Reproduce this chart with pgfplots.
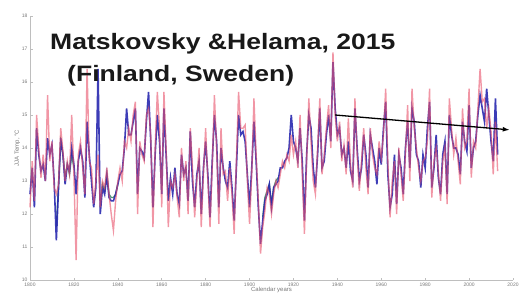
\documentclass[border=0pt]{standalone}
\usepackage{fontspec}
\setmainfont{Liberation Sans}
\usepackage{pgfplots}
\usepackage{pgfplotstable}
\usetikzlibrary{arrows.meta}
\pgfplotsset{compat=1.18}
\definecolor{redl}{RGB}{232,80,105}
\definecolor{bluel}{RGB}{40,40,175}
\definecolor{greenl}{RGB}{40,120,90}
\definecolor{axgray}{RGB}{190,190,190}
\definecolor{labgray}{RGB}{120,120,120}
\definecolor{titleblack}{RGB}{25,25,25}

\pgfplotstableread{
year red blue
1800 12.2 12.6
1801 13.6 13.4
1802 12.4 12.2
1803 15.0 14.6
1804 14.0 13.8
1805 13.1 13.3
1806 13.8 13.5
1807 13.0 13.0
1808 15.6 14.3
1809 13.6 13.8
1810 14.2 14.1
1811 12.8 13.0
1812 12.6 11.2
1813 12.9 12.8
1814 14.6 14.3
1815 13.9 13.8
1816 13.0 12.9
1817 13.6 13.5
1818 13.2 13.3
1819 15.0 14.0
1820 13.2 13.5
1821 10.6 12.6
1822 13.8 13.6
1823 14.2 14.0
1824 13.4 13.6
1825 12.6 12.5
1826 16.4 14.8
1827 13.6 13.8
1828 13.4 13.0
1829 12.3 12.2
1830 13.0 12.8
1831 13.8 16.4
1832 12.2 12.0
1833 13.0 12.8
1834 12.8 12.6
1835 13.4 13.2
1836 12.6 12.5
1837 12.0 12.4
1838 11.5 12.4
1839 12.4 12.6
1840 13.0 12.9
1841 13.4 13.2
1842 13.0 13.3
1843 14.2 14.0
1844 14.0 15.2
1845 14.6 14.4
1846 14.2 14.4
1847 15.0 14.8
1848 15.4 15.2
1849 12.0 12.6
1850 14.2 14.0
1851 13.8 13.9
1852 13.6 13.7
1853 15.0 14.8
1854 15.2 15.7
1855 14.4 14.2
1856 11.6 12.2
1857 14.0 13.8
1858 15.7 15.0
1859 14.6 14.2
1860 12.2 12.6
1861 15.7 15.2
1862 14.0 13.8
1863 11.6 12.4
1864 13.0 13.1
1865 12.8 12.6
1866 13.2 13.4
1867 12.5 12.6
1868 11.9 12.3
1869 14.0 13.8
1870 13.0 13.2
1871 13.6 13.4
1872 12.0 12.4
1873 14.6 14.5
1874 13.4 13.0
1875 11.9 12.2
1876 13.0 13.2
1877 14.0 13.6
1878 11.6 12.0
1879 13.2 13.4
1880 14.6 14.2
1881 13.0 13.2
1882 11.6 11.9
1883 13.4 13.6
1884 15.6 15.0
1885 14.0 14.2
1886 11.7 12.2
1887 14.6 14.0
1888 13.2 13.4
1889 13.3 13.0
1890 12.4 12.8
1891 13.4 13.6
1892 12.6 12.8
1893 11.4 11.8
1894 13.6 13.4
1895 15.7 15.0
1896 14.6 14.4
1897 14.6 14.5
1898 14.7 14.2
1899 13.0 13.2
1900 11.7 12.2
1901 13.2 13.4
1902 15.5 14.8
1903 13.8 13.6
1904 12.4 12.2
1905 10.8 11.1
1906 11.6 11.8
1907 12.1 12.4
1908 12.8 12.6
1909 12.6 12.9
1910 12.0 12.2
1911 12.6 12.8
1912 13.0 12.9
1913 12.8 13.0
1914 13.2 13.4
1915 13.6 13.4
1916 13.4 13.6
1917 13.8 13.7
1918 13.6 14.0
1919 14.4 15.0
1920 13.8 14.2
1921 14.2 14.0
1922 13.4 13.6
1923 15.0 14.6
1924 13.2 13.6
1925 11.4 11.8
1926 13.6 13.8
1927 15.5 15.0
1928 14.2 14.6
1929 13.0 13.4
1930 12.6 12.8
1931 14.0 13.8
1932 15.5 15.2
1933 13.2 13.4
1934 13.8 13.6
1935 14.6 14.4
1936 15.3 15.0
1937 14.0 14.2
1938 16.9 16.6
1939 15.0 15.2
1940 14.2 14.4
1941 14.8 14.6
1942 13.6 13.8
1943 14.1 14.0
1944 13.2 13.4
1945 14.9 14.2
1946 13.5 13.3
1947 12.8 13.0
1948 15.5 15.2
1949 13.8 14.0
1950 12.7 13.0
1951 13.6 13.4
1952 14.6 14.4
1953 13.4 13.8
1954 12.6 12.8
1955 14.6 14.4
1956 13.8 14.0
1957 13.4 13.6
1958 13.2 12.9
1959 14.2 14.0
1960 13.7 13.5
1961 14.4 14.6
1962 15.8 15.4
1963 13.6 13.2
1964 11.9 12.2
1965 13.0 12.6
1966 13.6 13.8
1967 12.0 12.3
1968 14.0 13.8
1969 13.2 13.4
1970 12.4 12.6
1971 13.8 14.0
1972 15.3 14.8
1973 13.0 13.4
1974 15.8 15.2
1975 14.6 14.8
1976 14.0 13.8
1977 13.4 13.6
1978 13.0 12.8
1979 13.6 13.8
1980 13.7 13.4
1981 14.2 14.6
1982 15.8 15.4
1983 12.5 12.8
1984 13.6 13.4
1985 14.0 14.4
1986 13.3 13.1
1987 12.4 12.6
1988 13.6 13.8
1989 14.0 14.2
1990 12.3 12.6
1991 15.5 15.0
1992 14.6 14.4
1993 13.8 14.0
1994 14.3 14.0
1995 13.6 13.8
1996 12.9 13.2
1997 15.2 14.8
1998 14.0 14.2
1999 14.2 13.9
2000 15.8 15.3
2001 13.1 13.4
2002 14.2 14.0
2003 14.0 14.2
2004 15.2 15.0
2005 16.4 15.6
2006 15.4 15.2
2007 15.5 14.8
2008 14.6 15.8
2009 15.2 15.0
2010 14.5 14.2
2011 13.2 13.6
2012 14.8 15.5
2013 13.3 13.8
}\datatable

\pgfplotstableread{
year green
1812 11.6
1813 12.9
1814 14.2
1815 13.8
1816 13.1
1817 13.5
1818 13.2
1819 13.8
1820 13.4
1821 nan
1832 12.2
1833 12.9
1834 12.7
1835 13.2
1836 12.6
1837 12.5
1838 12.5
1839 12.6
1840 12.9
1841 nan
1906 11.9
1907 12.5
1908 12.7
1909 12.9
1910 12.3
1911 12.8
1912 13.0
1913 13.1
}\greentable

\begin{document}
\begin{tikzpicture}
\path[use as bounding box] (-30pt,-22pt) rectangle (499pt,280pt);
\begin{axis}[
  at={(0pt,0pt)}, anchor=south west,
  scale only axis, width=483pt, height=264pt,
  xmin=1800, xmax=2020, ymin=10, ymax=18,
  axis lines=left,
  axis line style={-, draw=axgray, line width=0.6pt},
  xtick={1800,1820,...,2020},
  ytick={10,11,...,18},
  tick align=inside,
  major tick length=2.5pt,
  tick style={draw=axgray, line width=0.5pt},
  /pgf/number format/assume math mode=true,
  /pgf/number format/1000 sep={},
  ticklabel style={font=\fontsize{5}{6}\selectfont, text=labgray},
  xticklabel style={yshift=1pt},
  yticklabel style={xshift=1pt},
  xlabel={Calendar years},
  ylabel={JJA Temp, °C},
  label style={font=\fontsize{6}{7}\selectfont, text=labgray},
  xlabel style={yshift=6pt},
  ylabel style={yshift=-5pt},
  clip=false,
  unbounded coords=jump,
]
\addplot[greenl, line width=1.4pt, opacity=0.8] table[x=year,y=green] {\greentable};
\addplot[bluel, line width=1.6pt, opacity=0.9] table[x=year,y=blue] {\datatable};
\addplot[redl, line width=1.4pt, opacity=0.6] table[x=year,y=red] {\datatable};
\addplot[black, line width=1.3pt, -{Latex[length=7pt,width=5pt]}] coordinates {(1939,15.0) (2018.5,14.55)};
\end{axis}
\node[anchor=base west, text=titleblack, inner sep=0pt] at (20pt,230.5pt)
  {\scalebox{1.19}[1]{\fontsize{22.3}{26}\selectfont\bfseries Matskovsky \&Helama, 2015}};
\node[anchor=base west, text=titleblack, inner sep=0pt] at (37pt,198.3pt)
  {\scalebox{1.19}[1]{\fontsize{22.3}{26}\selectfont\bfseries (Finland, Sweden)}};
\end{tikzpicture}
\end{document}
